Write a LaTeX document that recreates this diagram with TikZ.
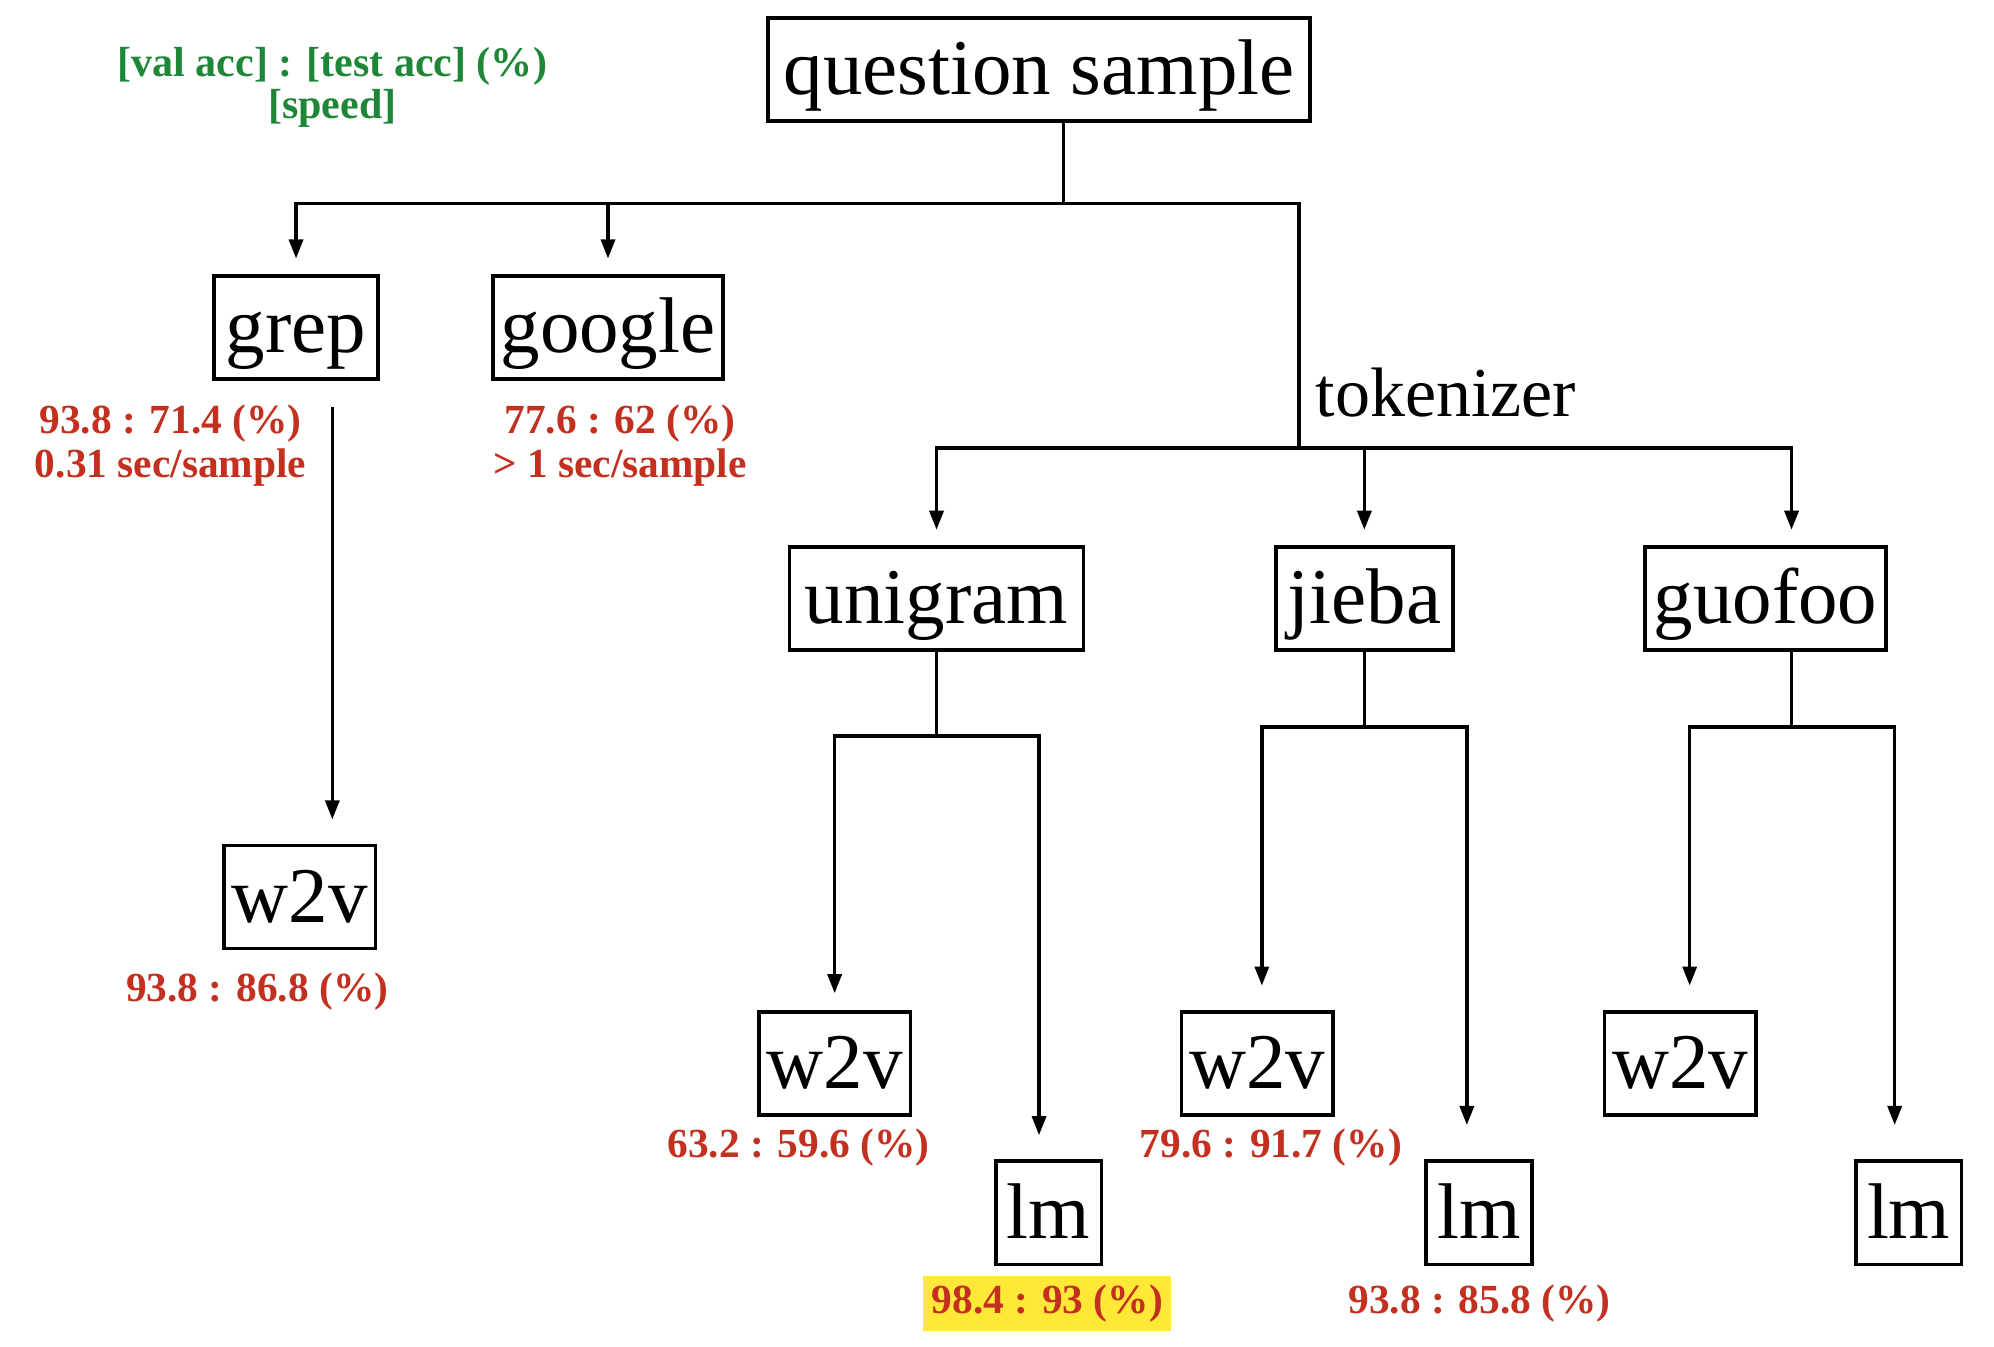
\documentclass[tikz,border=0pt]{standalone}
\usepackage{fontspec}
\newfontfamily\labfont{Liberation Serif}
\usetikzlibrary{arrows.meta}
\definecolor{accred}{RGB}{196,48,32}
\definecolor{accgreen}{RGB}{30,135,55}
\definecolor{hl}{RGB}{255,232,56}
\begin{document}
\begin{tikzpicture}[x=1pt,y=-1pt,
  box/.style={draw, line width=2.9pt, inner sep=0pt, minimum height=81pt, text height=46pt, text depth=6pt, font=\labfont\fontsize{62}{64}\selectfont},
  line/.style={line width=2.7pt},
  arr/.style={line width=2.7pt, -{Triangle[length=15pt,width=11pt]}},
  acc/.style={text=accred, font=\labfont\fontsize{32.5}{34}\selectfont\bfseries, align=center, inner sep=0pt},
  legend/.style={text=accgreen, font=\labfont\fontsize{33}{33}\selectfont\bfseries, align=center, inner sep=0pt},
]
\useasboundingbox (0,0) rectangle (1566,1057.1);
% boxes
\node[box, minimum width=426pt] (qs) at (816,54.5) {question sample};
\node[box, minimum width=129pt] (grep) at (232.5,257) {grep};
\node[box, minimum width=181pt] (google) at (477.5,257) {google};
\node[box, minimum width=231pt] (unigram) at (735.5,470) {unigram};
\node[box, minimum width=139pt] (jieba) at (1071.5,470) {jieba};
\node[box, minimum width=189pt] (guofoo) at (1386.5,470) {guofoo};
\node[box, minimum width=119pt] (w2va) at (235.5,704.5) {w2v};
\node[box, minimum width=119pt] (w2vb) at (655.5,835) {w2v};
\node[box, minimum width=83pt] (lmb) at (823.5,952.5) {lm};
\node[box, minimum width=119pt] (w2vc) at (987.5,835) {w2v};
\node[box, minimum width=83pt] (lmc) at (1161.5,952.5) {lm};
\node[box, minimum width=119pt] (w2vd) at (1319.5,835) {w2v};
\node[box, minimum width=83pt] (lmd) at (1499,952.5) {lm};
% texts
\node[legend] (leg) at (261,68.5) {[val acc] : [test acc] (\%)\\{}[speed]};
\node[anchor=base west, inner sep=0pt, font=\labfont\fontsize{55}{57}\selectfont] (tok) at (1033,327) {tokenizer};
\node[acc] (lgrep) at (134,350) {93.8 : 71.4 (\%)\\0.31 sec/sample};
\node[acc] (lgoogle) at (487,350) {77.6 : 62 (\%)\\> 1 sec/sample};
\node[acc] (lw2va) at (202,779) {93.8 : 86.8 (\%)};
\node[acc] (lw2vb) at (627,901) {63.2 : 59.6 (\%)};
\node[acc, fill=hl, minimum width=195pt, minimum height=43pt] (llmb) at (822.5,1023.5) {98.4 : 93 (\%)};
\node[acc] (lw2vc) at (998,901) {79.6 : 91.7 (\%)};
\node[acc] (llmc) at (1162,1024) {93.8 : 85.8 (\%)};
% connectors
\coordinate (j0) at (835,160);
\coordinate (tk) at (1020,160);
\coordinate (tk2) at (1020,352);
\draw[line] (qs.south -| j0) -- (j0);
\draw[arr, shorten >=12pt] (j0) -| (grep.north);
\draw[arr, shorten >=12pt] (j0) -| (google.north);
\draw[line] (j0) -- (tk) -- (tk2);
\draw[arr, shorten >=12pt] (tk2) -| (unigram.north);
\draw[arr, shorten >=12pt] (tk2) -| (jieba.north);
\draw[arr, shorten >=12pt] (tk2) -| ([xshift=20.5pt]guofoo.north);
\draw[arr] ([xshift=28.5pt,yshift=-21pt]grep.south) -- ([xshift=25.5pt,yshift=19pt]w2va.north);
\coordinate (ju) at (735.5,578);
\draw[line] (unigram.south) -- (ju);
\draw[arr, shorten >=13pt] (ju) -| (w2vb.north);
\draw[arr, shorten >=19pt] (ju) -| ([xshift=-7.5pt]lmb.north);
\coordinate (jj) at (1071.5,571);
\draw[line] (jieba.south) -- (jj);
\draw[arr, shorten >=19pt] (jj) -| ([xshift=3.5pt]w2vc.north);
\draw[arr, shorten >=27pt] (jj) -| ([xshift=-9.5pt]lmc.north);
\coordinate (jg) at (1407,571);
\draw[line] ([xshift=20.5pt]guofoo.south) -- (jg);
\draw[arr, shorten >=19pt] (jg) -| ([xshift=7.5pt]w2vd.north);
\draw[arr, shorten >=27pt] (jg) -| ([xshift=-11pt]lmd.north);
\end{tikzpicture}
\end{document}
